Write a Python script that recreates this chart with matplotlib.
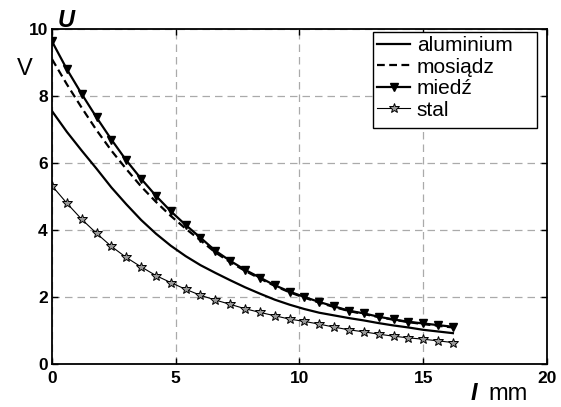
import matplotlib
matplotlib.use("Agg")
import matplotlib.pyplot as plt
from matplotlib.patches import Rectangle
import numpy as np

plt.rcParams['font.family'] = ['Liberation Sans', 'DejaVu Sans']

x = [0.6 * i for i in range(28)]

aluminium = [7.55, 6.93, 6.37, 5.83, 5.27, 4.77, 4.30, 3.89, 3.53, 3.22, 2.95, 2.72,
             2.50, 2.29, 2.10, 1.92, 1.77, 1.64, 1.53, 1.45, 1.37, 1.30, 1.22, 1.15,
             1.09, 1.02, 0.97, 0.92]
mosiadz = [9.10, 8.35, 7.65, 6.98, 6.37, 5.82, 5.30, 4.84, 4.42, 4.04, 3.69, 3.33,
           3.04, 2.78, 2.55, 2.33, 2.14, 1.98, 1.83, 1.70, 1.58, 1.49, 1.40, 1.32,
           1.25, 1.19, 1.14, 1.09]
miedz = [9.63, 8.80, 8.06, 7.36, 6.70, 6.08, 5.53, 5.02, 4.56, 4.15, 3.77, 3.38,
         3.08, 2.81, 2.58, 2.35, 2.16, 2.00, 1.85, 1.72, 1.59, 1.51, 1.41, 1.33,
         1.26, 1.21, 1.16, 1.11]
stal = [5.32, 4.80, 4.32, 3.90, 3.51, 3.18, 2.90, 2.64, 2.43, 2.23, 2.05, 1.91,
        1.78, 1.65, 1.54, 1.44, 1.34, 1.27, 1.19, 1.10, 1.02, 0.96, 0.89, 0.83,
        0.78, 0.74, 0.69, 0.64]

labels = ['aluminium', 'mosiądz', 'miedź', 'stal']
xticks = [0, 5, 10, 15, 20]
yticks = [0, 2, 4, 6, 8, 10]

fig = plt.figure(figsize=(5.61, 4.07), dpi=100)
ax = fig.add_axes([0.0927, 0.1057, 0.8823, 0.823])

ax.plot(x, aluminium, color='black', lw=1.6, label=labels[0])
ax.plot(x, mosiadz, color='black', lw=1.6, ls=(0, (3.5, 2)), label=labels[1])
ax.plot(x, miedz, color='black', lw=1.6, marker='v', ms=6, mfc='black', mec='black',
        label=labels[2])
ax.plot(x, stal, color='black', lw=0.8, marker='*', ms=7, mfc='#999999', mec='black',
        mew=0.7, label=labels[3])

ax.set_xlim(0, 20)
ax.set_ylim(0, 10)
ax.set_xticks(xticks)
ax.set_yticks(yticks)
ax.grid(True, color='#aaaaaa', ls=(0, (6, 4)), lw=0.9)
ax.tick_params(direction='in', top=True, right=True, length=4, width=1,
               labelsize=12.5, pad=3)
ax.tick_params(axis='x', pad=5)
for lab in ax.get_xticklabels() + ax.get_yticklabels():
    lab.set_fontweight('bold')
for s in ax.spines.values():
    s.set_linewidth(1.3)

# legend box (white, black edge) drawn behind the legend entries
box = Rectangle((0.6485, 0.7045), 0.9798 - 0.6485, 0.991 - 0.7045,
                transform=ax.transAxes, facecolor='white', edgecolor='black',
                lw=1.0, zorder=4)
ax.add_patch(box)

leg = ax.legend(loc='upper left', bbox_to_anchor=(0.6485, 0.991), fontsize=15,
                frameon=False, handlelength=1.6,
                handletextpad=0.3, borderpad=0.2, labelspacing=0.12, borderaxespad=0.0)
leg.set_zorder(5)

fig.text(58 / 561, 1 - 27 / 407, 'U', fontsize=17, fontweight='bold', style='italic',
         ha='left', va='baseline')
fig.text(25 / 561, 1 - 75 / 407, 'V', fontsize=17, ha='center', va='baseline')
fig.text(471 / 561, 1 - 400 / 407, 'I', fontsize=17, fontweight='bold', style='italic',
         ha='left', va='baseline')
fig.text(488 / 561, 1 - 400 / 407, 'mm', fontsize=17, ha='left', va='baseline')

fig.savefig('out.png', dpi=100)
